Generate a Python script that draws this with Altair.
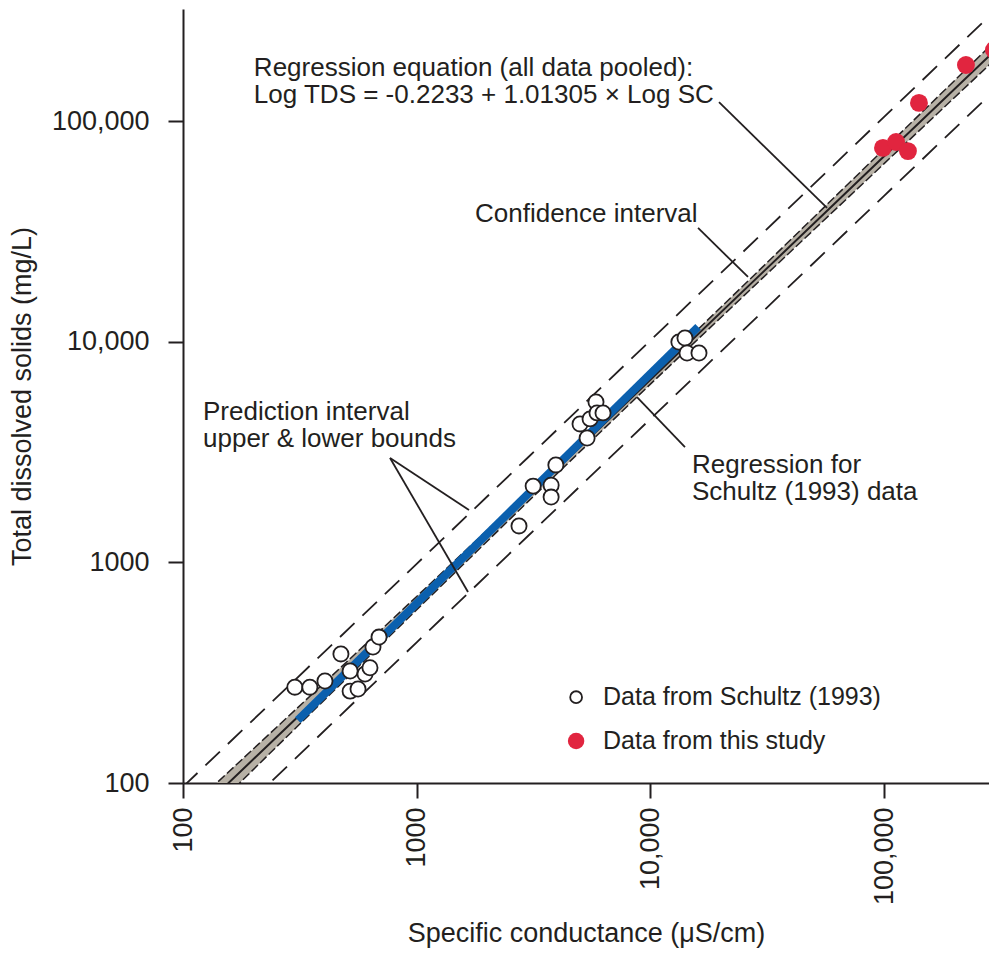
import altair as alt
import pandas as pd
import numpy as np

# ---------------- data ----------------
# Schultz (1993) data: specific conductance (uS/cm) and TDS (mg/L)
schultz_sc = [301, 349, 405, 474, 519, 519, 561, 601, 631, 650, 690,
              2740, 3150, 3760, 3760, 3940, 5360, 5000, 5520, 5850, 5910, 6270,
              13240, 14060, 14350, 16140]
schultz_tds = [272, 272, 290, 385, 322, 261, 267, 312, 333, 414, 459,
               1465, 2220, 2240, 1980, 2770, 3670, 4250, 4480, 5350, 4770, 4770,
               10000, 10420, 8910, 8910]

# Data from this study
study_sc = [98900, 112500, 126500, 141000, 224000, 295000, 313000, 313000]
study_tds = [75900, 80700, 73400, 121400, 180300, 211000, 252000, 139000]

# pooled regression (from the equation printed on the chart)
INTERCEPT = -0.2233
SLOPE = 1.01305

# SC positions used to draw the regression band and interval lines
band_sc = [100, 300, 1000, 3000, 10000, 30000, 100000, 320000]
# half-widths (log10 units) of confidence and prediction intervals
ci_half = [0.055, 0.042, 0.030, 0.022, 0.020, 0.025, 0.033, 0.042]
pi_half = [0.180, 0.179, 0.178, 0.178, 0.178, 0.178, 0.179, 0.180]

# Schultz (1993) regression line end points
schultz_reg_sc = [310, 16000]
schultz_reg_tds = [193, 11700]

# annotation texts and anchors (data coordinates)
ann_text = ["Regression equation (all data pooled):",
            "Log TDS = -0.2233 + 1.01305 \u00d7 Log SC",
            "Confidence interval",
            "Prediction interval",
            "upper & lower bounds",
            "Regression for",
            "Schultz (1993) data"]
ann_sc = [201, 201, 1776, 121.8, 121.8, 15070, 15070]
ann_tds = [174800, 131900, 38060, 4814, 3632, 2768, 2087]

# legend entries
legend_text = ["Data from Schultz (1993)", "Data from this study"]
legend_text_sc = [6270, 6270]
legend_sc = [4810, 4810]
legend_tds = [245, 155]

# leader lines (start -> end, data coordinates)
lead_sc1 = [19660, 15990, 769, 769, 14060]
lead_tds1 = [122400, 32890, 2978, 2978, 3340]
lead_sc2 = [57000, 26160, 1674, 1658, 8765]
lead_tds2 = [40530, 19720, 1730, 735, 5630]

# ---------------- build tables ----------------
lsc = np.log10(np.array(band_sc, dtype=float))
fit_log = INTERCEPT + SLOPE * lsc
band = pd.DataFrame({
    "sc": band_sc,
    "fit": 10 ** fit_log,
    "ci_lo": 10 ** (fit_log - np.array(ci_half)),
    "ci_hi": 10 ** (fit_log + np.array(ci_half)),
    "pi_lo": 10 ** (fit_log - np.array(pi_half)),
    "pi_hi": 10 ** (fit_log + np.array(pi_half)),
})

schultz = pd.DataFrame({"sc": schultz_sc, "tds": schultz_tds})
study = pd.DataFrame({"sc": study_sc, "tds": study_tds})
sreg = pd.DataFrame({"sc": schultz_reg_sc, "tds": schultz_reg_tds})
ann = pd.DataFrame({"sc": ann_sc, "tds": ann_tds, "text": ann_text})
leg_txt = pd.DataFrame({"sc": legend_text_sc, "tds": legend_tds, "text": legend_text})
lead = pd.DataFrame({"sc": lead_sc1, "tds": lead_tds1, "sc2": lead_sc2, "tds2": lead_tds2})
leg_open = pd.DataFrame({"sc": legend_sc[:1], "tds": legend_tds[:1]})
leg_red = pd.DataFrame({"sc": legend_sc[1:], "tds": legend_tds[1:]})

# ---------------- style ----------------
INK = "#231f20"
GRAY = "#b7b1a6"
BLUE = "#0b60ae"
RED = "#e1253f"
FONT = "Liberation Sans"

X_DOMAIN = [100, 281100]
Y_DOMAIN = [100, 323700]

xscale = alt.Scale(type="log", domain=X_DOMAIN, nice=False)
yscale = alt.Scale(type="log", domain=Y_DOMAIN, nice=False)

LBL = "datum.value >= 10000 ? format(datum.value, ',') : format(datum.value, 'd')"
xaxis = alt.Axis(values=[100, 1000, 10000, 100000], labelExpr=LBL,
                 labelAngle=-90, labelPadding=9, titlePadding=16,
                 title="Specific conductance (\u03bcS/cm)")
yaxis = alt.Axis(values=[100, 1000, 10000, 100000], labelExpr=LBL,
                 labelPadding=19, titlePadding=15,
                 title="Total dissolved solids (mg/L)")


def X(field="sc"):
    return alt.X(f"{field}:Q", scale=xscale, axis=xaxis)


def Y(field="tds"):
    return alt.Y(f"{field}:Q", scale=yscale, axis=yaxis)


base_band = alt.Chart(band)

pi_hi = base_band.mark_line(color=INK, strokeWidth=1.8, strokeDash=[20, 11], clip=True).encode(x=X(), y=Y("pi_hi"))
pi_lo = base_band.mark_line(color=INK, strokeWidth=1.8, strokeDash=[20, 11], clip=True).encode(x=X(), y=Y("pi_lo"))
ci_area = base_band.mark_area(color=GRAY, clip=True).encode(x=X(), y=Y("ci_lo"), y2="ci_hi:Q")
ci_hi = base_band.mark_line(color=INK, strokeWidth=1.5, strokeDash=[9, 3], clip=True).encode(x=X(), y=Y("ci_hi"))
ci_lo = base_band.mark_line(color=INK, strokeWidth=1.5, strokeDash=[9, 3], clip=True).encode(x=X(), y=Y("ci_lo"))
fit = base_band.mark_line(color=INK, strokeWidth=2, clip=True).encode(x=X(), y=Y("fit"))

blue = alt.Chart(sreg).mark_line(color=BLUE, strokeWidth=8, clip=True).encode(x=X(), y=Y())

open_pts = alt.Chart(schultz).mark_point(shape="circle", filled=True, fill="white", stroke=INK,
                                          strokeWidth=1.8, size=230, opacity=1).encode(x=X(), y=Y())
red_pts = alt.Chart(study).mark_point(shape="circle", filled=True, fill=RED, strokeWidth=0,
                                      size=320, opacity=1, clip=True).encode(x=X(), y=Y())

leaders = alt.Chart(lead).mark_rule(color=INK, strokeWidth=1.8).encode(
    x=X(), y=Y(), x2="sc2:Q", y2="tds2:Q")

texts = alt.Chart(ann).mark_text(align="left", baseline="middle", font=FONT, fontSize=26,
                                 color=INK).encode(x=X(), y=Y(), text="text:N")
leg_texts = alt.Chart(leg_txt).mark_text(align="left", baseline="middle", font=FONT, fontSize=25,
                                         color=INK).encode(x=X(), y=Y(), text="text:N")

leg1 = alt.Chart(leg_open).mark_point(shape="circle", filled=True, fill="white", stroke=INK,
                                      strokeWidth=1.8, size=140, opacity=1).encode(x=X(), y=Y())
leg2 = alt.Chart(leg_red).mark_point(shape="circle", filled=True, fill=RED, strokeWidth=0,
                                     size=270, opacity=1).encode(x=X(), y=Y())

chart = alt.layer(
    pi_hi, pi_lo, ci_area, ci_hi, ci_lo, fit, blue, open_pts, red_pts, leaders, texts,
    leg_texts, leg1, leg2
).properties(
    width=806, height=774,
    padding={"left": 175, "top": 1, "right": 0, "bottom": 167},
    autosize=alt.AutoSizeParams(type="none"),
).configure_view(stroke=None).configure_axis(
    domainColor=INK, domainWidth=2, tickColor=INK, tickWidth=2, tickSize=15,
    labelFont=FONT, labelFontSize=27, labelColor=INK,
    titleFont=FONT, titleFontSize=27, titleFontWeight="normal", titleColor=INK,
    grid=False,
)

chart.save("out.html", embed_options={"renderer": "svg", "actions": False})
